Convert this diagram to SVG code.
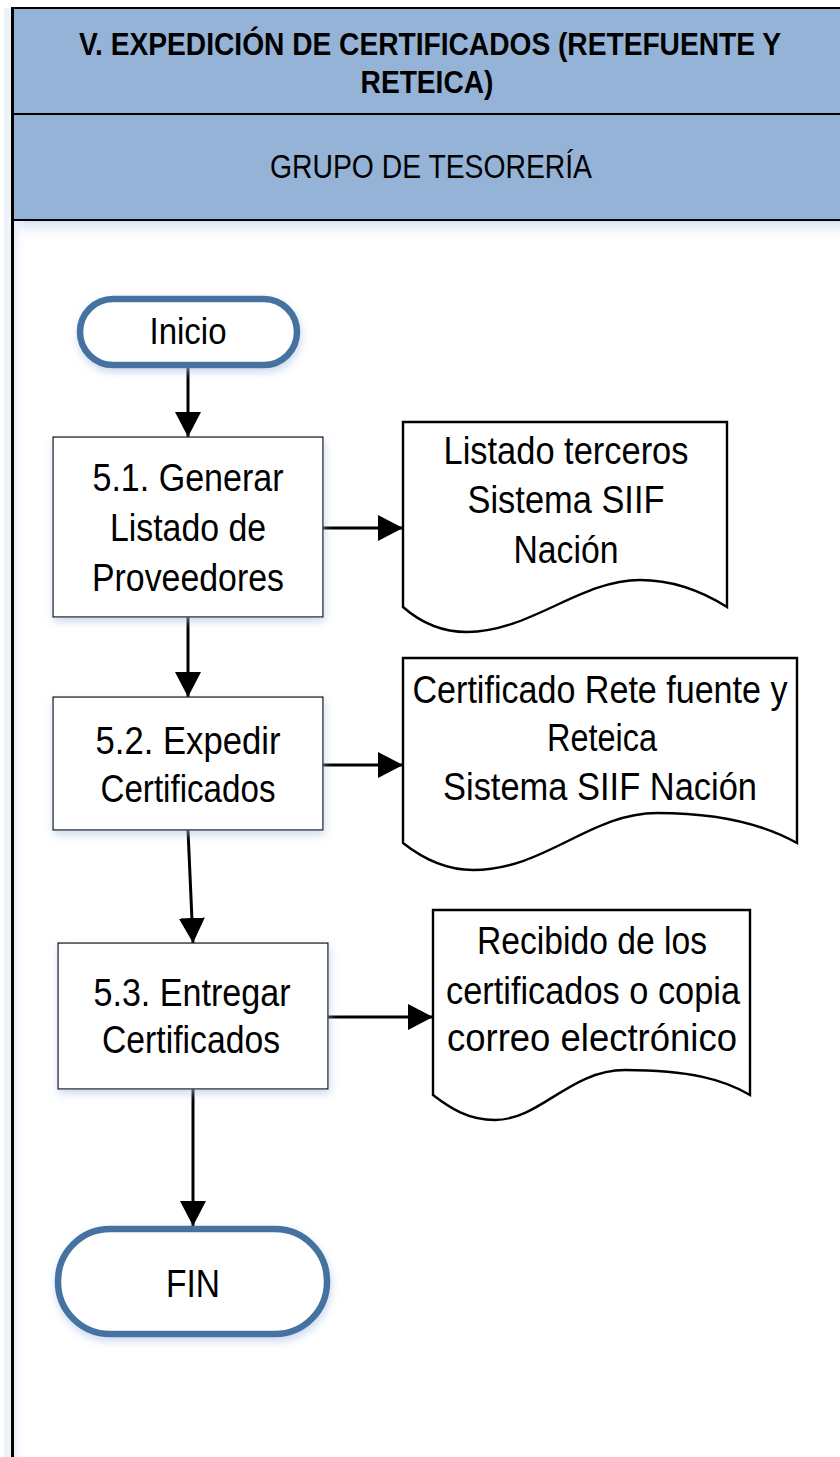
<svg xmlns="http://www.w3.org/2000/svg" width="840" height="1457" viewBox="0 0 840 1457">
<style>
.t{font-family:"Liberation Sans",Arial,sans-serif;fill:#000;text-anchor:middle}
.box{fill:#fff;stroke:#000;stroke-width:1.2}
.doc{fill:#fff;stroke:#000;stroke-width:2.4}
.term{fill:#fff;stroke:#4472A0;stroke-width:6.5}
.c{stroke:#000;stroke-width:3;fill:none}
</style>
<defs>
<marker id="ah" markerUnits="userSpaceOnUse" markerWidth="25" markerHeight="26" refX="25" refY="13" orient="auto" viewBox="0 0 25 26"><path d="M0,0 L25,13 L0,26 Z" fill="#000"/></marker>
<filter id="sh" x="-20%" y="-20%" width="140%" height="150%"><feDropShadow dx="1" dy="4" stdDeviation="4" flood-color="#A7C0E3" flood-opacity="0.6"/></filter>
<linearGradient id="fade" x1="0" y1="0" x2="0" y2="1"><stop offset="0" stop-color="#D6E2F1"/><stop offset="1" stop-color="#fff" stop-opacity="0"/></linearGradient>
<linearGradient id="lfade" x1="0" y1="0" x2="1" y2="0"><stop offset="0" stop-color="#E3EBF6"/><stop offset="1" stop-color="#fff" stop-opacity="0"/></linearGradient>
</defs>
<g id="pool">
<rect x="0" y="0" width="840" height="1457" fill="#fff"/>
<rect x="14" y="221" width="826" height="22" fill="url(#fade)"/>
<rect x="14" y="221" width="12" height="1236" fill="url(#lfade)"/>
<rect x="4" y="8" width="8" height="1449" fill="#EEF3FA"/>
<rect x="12" y="8" width="829" height="106" fill="#95B3D7" stroke="#000" stroke-width="2"/>
<rect x="12" y="114" width="829" height="106" fill="#95B3D7" stroke="#000" stroke-width="2"/>
<line x1="12.5" y1="8" x2="12.5" y2="1457" stroke="#000" stroke-width="3"/>
<text class="t" transform="translate(430,55) scale(0.88,1)" x="0" y="0" font-size="32" font-weight="bold">V. EXPEDICIÓN DE CERTIFICADOS (RETEFUENTE Y</text>
<text class="t" transform="translate(427,93) scale(0.88,1)" x="0" y="0" font-size="32" font-weight="bold">RETEICA)</text>
<text class="t" x="431" y="178" font-size="34" textLength="322" lengthAdjust="spacingAndGlyphs">GRUPO DE TESORERÍA</text>
</g>
<g id="connectors">
<line class="c" x1="188" y1="368" x2="188" y2="437" marker-end="url(#ah)"/>
<line class="c" x1="323" y1="528" x2="403" y2="528" marker-end="url(#ah)"/>
<line class="c" x1="188" y1="617" x2="188" y2="697" marker-end="url(#ah)"/>
<line class="c" x1="323" y1="765" x2="403" y2="765" marker-end="url(#ah)"/>
<line class="c" x1="188" y1="830" x2="193" y2="943" marker-end="url(#ah)"/>
<line class="c" x1="328" y1="1017" x2="433" y2="1017" marker-end="url(#ah)"/>
<line class="c" x1="193" y1="1089" x2="193" y2="1226" marker-end="url(#ah)"/>
</g>
<g id="inicio">
<rect class="term" x="80" y="299" width="217" height="66" rx="33" filter="url(#sh)"/>
<text class="t" x="188" y="344" font-size="37" textLength="77" lengthAdjust="spacingAndGlyphs">Inicio</text>
</g>
<g id="n51">
<rect class="box" x="53" y="437" width="270" height="180" filter="url(#sh)"/>
<text class="t" x="188" y="491" font-size="38" textLength="191" lengthAdjust="spacingAndGlyphs">5.1. Generar</text>
<text class="t" x="188" y="541" font-size="38" textLength="156" lengthAdjust="spacingAndGlyphs">Listado de</text>
<text class="t" x="188" y="591" font-size="38" textLength="192" lengthAdjust="spacingAndGlyphs">Proveedores</text>
</g>
<g id="doc1">
<path class="doc" d="M403,422 H727 V607 C700,590 670,580 640,580 C580,580 530,632 467,632 C440,632 420,622 403,607 Z"/>
<text class="t" x="566" y="464" font-size="38" textLength="245" lengthAdjust="spacingAndGlyphs">Listado terceros</text>
<text class="t" x="566" y="513" font-size="38" textLength="197" lengthAdjust="spacingAndGlyphs">Sistema SIIF</text>
<text class="t" x="566" y="563" font-size="38" textLength="105" lengthAdjust="spacingAndGlyphs">Nación</text>
</g>
<g id="n52">
<rect class="box" x="53" y="697" width="270" height="133" filter="url(#sh)"/>
<text class="t" x="188" y="754" font-size="38" textLength="185" lengthAdjust="spacingAndGlyphs">5.2. Expedir</text>
<text class="t" x="188" y="802" font-size="38" textLength="175" lengthAdjust="spacingAndGlyphs">Certificados</text>
</g>
<g id="doc2">
<path class="doc" d="M403,658 H797 V843 C765,825 720,813 657,813 C590,813 545,870 473,870 C445,870 422,858 403,843 Z"/>
<text class="t" x="600" y="703" font-size="38" textLength="375" lengthAdjust="spacingAndGlyphs">Certificado Rete fuente y</text>
<text class="t" x="602" y="751" font-size="38" textLength="110" lengthAdjust="spacingAndGlyphs">Reteica</text>
<text class="t" x="600" y="800" font-size="38" textLength="314" lengthAdjust="spacingAndGlyphs">Sistema SIIF Nación</text>
</g>
<g id="n53">
<rect class="box" x="58" y="943" width="270" height="146" filter="url(#sh)"/>
<text class="t" x="192" y="1006" font-size="38" textLength="197" lengthAdjust="spacingAndGlyphs">5.3. Entregar</text>
<text class="t" x="191" y="1053" font-size="38" textLength="178" lengthAdjust="spacingAndGlyphs">Certificados</text>
</g>
<g id="doc3">
<path class="doc" d="M433,910 H750 V1095 C725,1080 690,1070 625,1070 C570,1070 540,1120 495,1120 C468,1120 450,1108 433,1095 Z"/>
<text class="t" x="592" y="954" font-size="38" textLength="230" lengthAdjust="spacingAndGlyphs">Recibido de los</text>
<text class="t" x="593" y="1004" font-size="38" textLength="294" lengthAdjust="spacingAndGlyphs">certificados o copia</text>
<text class="t" x="592" y="1051" font-size="38" textLength="290" lengthAdjust="spacingAndGlyphs">correo electrónico</text>
</g>
<g id="fin">
<rect class="term" x="58" y="1229" width="269" height="105" rx="52" filter="url(#sh)"/>
<text class="t" x="193" y="1297" font-size="39" textLength="54" lengthAdjust="spacingAndGlyphs">FIN</text>
</g>
</svg>
